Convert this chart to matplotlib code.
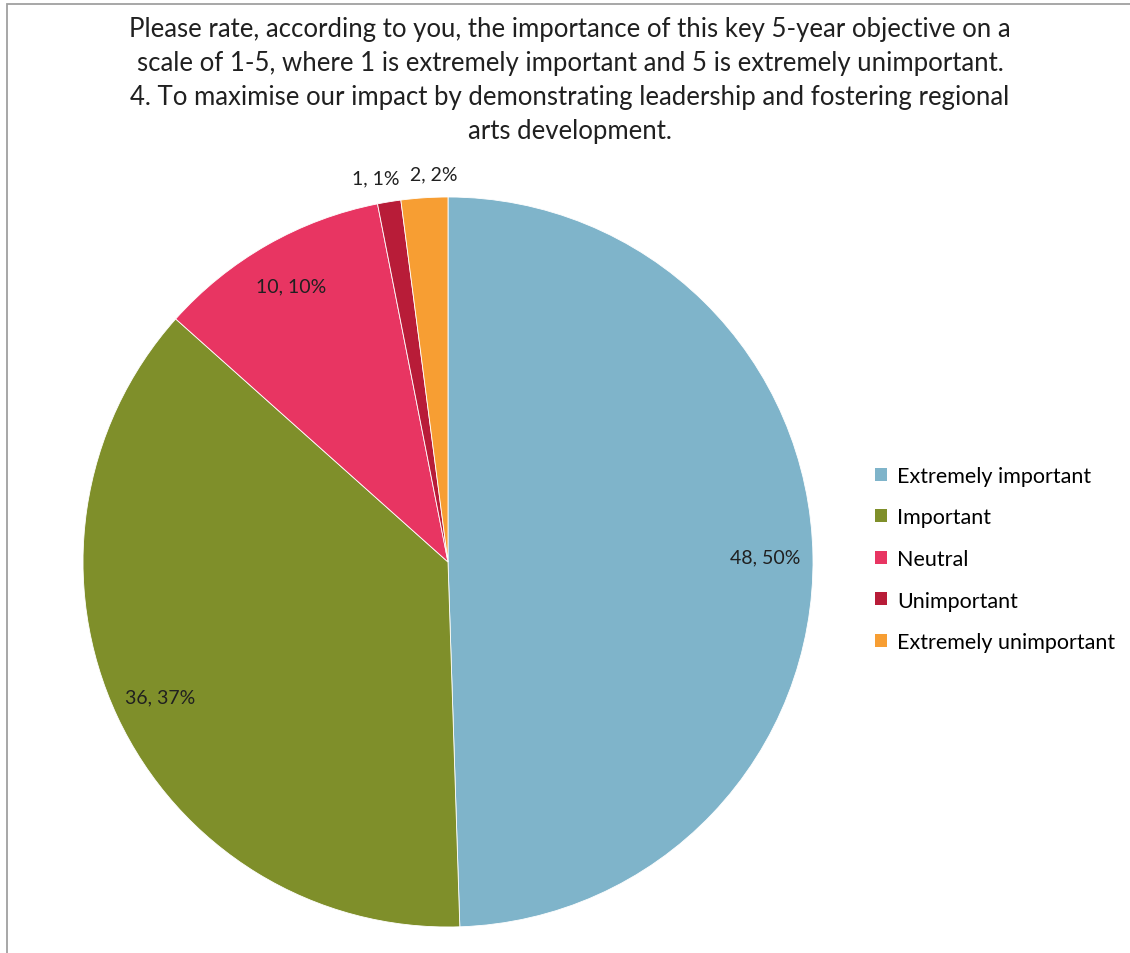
import numpy as np
import matplotlib.pyplot as plt
from matplotlib.patches import Patch, Rectangle

plt.rcParams['font.family'] = ['Lato', 'DejaVu Sans']

# Data
categories = ['Extremely important', 'Important', 'Neutral', 'Unimportant', 'Extremely unimportant']
counts = [48, 36, 10, 1, 2]
colors = ['#7FB4CA', '#7F8F2A', '#E83562', '#B81C38', '#F79E33']
title = ('Please rate, according to you, the importance of this key 5-year objective on a\n'
         'scale of 1-5, where 1 is extremely important and 5 is extremely unimportant.\n'
         '4. To maximise our impact by demonstrating leadership and fostering regional\n'
         'arts development.')

# percentages rounded so they add up to 100 (like Excel does)
raw = np.array(counts) / sum(counts) * 100
pcts = np.floor(raw).astype(int)
rest = 100 - pcts.sum()
for i in np.argsort(-(raw - pcts))[:rest]:
    pcts[i] += 1

fig = plt.figure(figsize=(11.3, 9.54), dpi=100)

# Chart border (top and left visible)
fig.patches.append(Rectangle((7 / 1130, -0.1), 1.2, 1 - 5 / 954 + 0.1, transform=fig.transFigure,
                             fill=False, edgecolor='#A0A0A0', linewidth=1.3))

ax = fig.add_axes([83 / 1130, 1 - 928 / 954, 730 / 1130, 730 / 954])
wedges, _ = ax.pie(counts, colors=colors, startangle=90, counterclock=False,
                   wedgeprops=dict(edgecolor='white', linewidth=0.6))
ax.set_aspect('equal')
ax.set_xlim(-1, 1)
ax.set_ylim(-1, 1)

# small outside labels get pushed apart a bit
nudge = {3: -7, 4: 8}
for i, (w, c) in enumerate(zip(wedges, counts)):
    ang = np.deg2rad((w.theta1 + w.theta2) / 2)
    r = 0.87 if c / sum(counts) > 0.05 else 1.065
    ax.annotate(f'{c}, {pcts[i]}%', (r * np.cos(ang), r * np.sin(ang)),
                xytext=(nudge.get(i, 0), 0), textcoords='offset points',
                ha='center', va='center', fontsize=14, color='#202020',
                annotation_clip=False)

handles = [Patch(facecolor=col, edgecolor='none') for col in colors]
fig.legend(handles, categories, loc='center left', bbox_to_anchor=(856 / 1130, 1 - 560 / 954),
           frameon=False, fontsize=15.5, handlelength=0.55, handleheight=0.55,
           handletextpad=0.45, labelspacing=1.0)

fig.text(570 / 1130, 1 - 17 / 954, title, ha='center', va='top', fontsize=18.5,
         color='#202020', linespacing=1.45)

plt.savefig('out.png', dpi=100)
